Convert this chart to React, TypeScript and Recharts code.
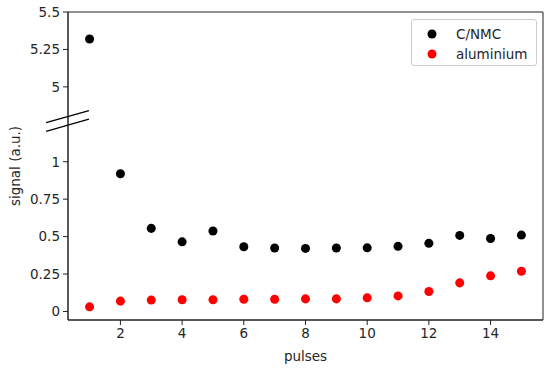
import React from 'react';
import {
  ScatterChart,
  Scatter,
  XAxis,
  YAxis,
  ZAxis,
  Legend,
  ReferenceLine,
  ReferenceArea,
  Label,
} from 'recharts';

// ---- data ----
const pulses = [1, 2, 3, 4, 5, 6, 7, 8, 9, 10, 11, 12, 13, 14, 15];
const cnmcSignal = [5.32, 0.92, 0.555, 0.465, 0.537, 0.432, 0.424, 0.421, 0.424, 0.425, 0.435, 0.455, 0.508, 0.487, 0.51];
const aluminiumSignal = [0.031, 0.069, 0.076, 0.078, 0.078, 0.082, 0.082, 0.084, 0.084, 0.091, 0.104, 0.133, 0.191, 0.238, 0.269];
const xTicks = [2, 4, 6, 8, 10, 12, 14];
const yTickValues = [0, 0.25, 0.5, 0.75, 1, 5, 5.25, 5.5];

// broken axis: values above the break are shifted down by this amount
const BREAK_SHIFT = 3.5;
const BREAK_AT = 1.25;
const toAxis = (v: number) => (v > 3 ? v - BREAK_SHIFT : v);
const fromAxis = (t: number) => (t > BREAK_AT ? t + BREAK_SHIFT : t);

const cnmcData = pulses.map((p, i) => ({ x: p, y: toAxis(cnmcSignal[i]) }));
const aluminiumData = pulses.map((p, i) => ({ x: p, y: toAxis(aluminiumSignal[i]) }));
const yTicks = yTickValues.map(toAxis);

const X_DOMAIN: [number, number] = [0.3, 15.7];
const Y_DOMAIN: [number, number] = [-0.057, 2];

const FONT = 'DejaVu Sans';
const TEXT = '#262626';

const fmtY = (t: number) => {
  const v = Math.round(fromAxis(t) * 100) / 100;
  return String(v);
};

const LegendBox = () => (
  <div
    style={{
      width: 124,
      height: 45,
      border: '1px solid #cccccc',
      borderRadius: 3,
      background: 'rgba(255,255,255,0.8)',
      fontFamily: FONT,
      fontSize: 13.5,
      color: TEXT,
      boxSizing: 'content-box',
      position: 'relative',
    }}
  >
    {[
      { name: 'C/NMC', color: '#000000' },
      { name: 'aluminium', color: '#ff0000' },
    ].map((e, i) => (
      <div
        key={e.name}
        style={{
          position: 'absolute',
          left: 0,
          top: 4 + i * 20,
          height: 20,
          display: 'flex',
          alignItems: 'center',
        }}
      >
        <svg width={44} height={20} style={{ display: 'block' }}>
          <circle cx={20} cy={10} r={4.5} fill={e.color} />
        </svg>
        <span style={{ lineHeight: '20px' }}>{e.name}</span>
      </div>
    ))}
  </div>
);

export default function App() {
  return (
    <div style={{ position: 'absolute', left: 0, top: 0, background: '#fff' }}>
      <ScatterChart
        width={550}
        height={370}
        margin={{ top: 12, right: 7, left: 0, bottom: 0 }}
        style={{ fontFamily: FONT }}
      >
        <XAxis
          type="number"
          dataKey="x"
          domain={X_DOMAIN}
          ticks={xTicks}
          allowDataOverflow
          height={50}
          tickSize={5}
          tickMargin={3}
          stroke="#222"
          tick={{ fontSize: 13.5, fill: TEXT, fontFamily: FONT }}
        >
          <Label
            value="pulses"
            position="insideBottom"
            offset={9}
            style={{ fontSize: 13.5, fill: TEXT, fontFamily: FONT }}
          />
        </XAxis>
        <YAxis
          type="number"
          dataKey="y"
          domain={Y_DOMAIN}
          ticks={yTicks}
          allowDataOverflow
          width={68}
          tickSize={5}
          tickMargin={3}
          stroke="#222"
          tickFormatter={fmtY}
          tick={{ fontSize: 13.5, fill: TEXT, fontFamily: FONT }}
        >
          <Label
            value="signal (a.u.)"
            angle={-90}
            position="insideLeft"
            offset={15}
            style={{ fontSize: 13.5, fill: TEXT, fontFamily: FONT, textAnchor: 'middle' }}
          />
        </YAxis>
        <ZAxis range={[78, 78]} />
        <ReferenceArea
          x1={X_DOMAIN[0]}
          x2={X_DOMAIN[1]}
          y1={Y_DOMAIN[0]}
          y2={Y_DOMAIN[1]}
          fill="none"
          fillOpacity={0}
          stroke="#222"
          strokeWidth={1}
          ifOverflow="visible"
        />
        <ReferenceLine
          segment={[{ x: -0.41, y: 1.262 }, { x: 0.979, y: 1.342 }]}
          stroke="#000"
          strokeWidth={1.3}
          ifOverflow="visible"
        />
        <ReferenceLine
          segment={[{ x: -0.41, y: 1.202 }, { x: 0.979, y: 1.285 }]}
          stroke="#000"
          strokeWidth={1.3}
          ifOverflow="visible"
        />
        <Scatter
          name="C/NMC"
          data={cnmcData}
          fill="#000000"
          isAnimationActive={false}
        />
        <Scatter
          name="aluminium"
          data={aluminiumData}
          fill="#ff0000"
          isAnimationActive={false}
        />
        <Legend
          layout="horizontal"
          align="center"
          verticalAlign="middle"
          content={() => <LegendBox />}
          wrapperStyle={{ position: 'absolute', left: 411, top: 19, width: 126, height: 47 }}
        />
      </ScatterChart>
    </div>
  );
}
